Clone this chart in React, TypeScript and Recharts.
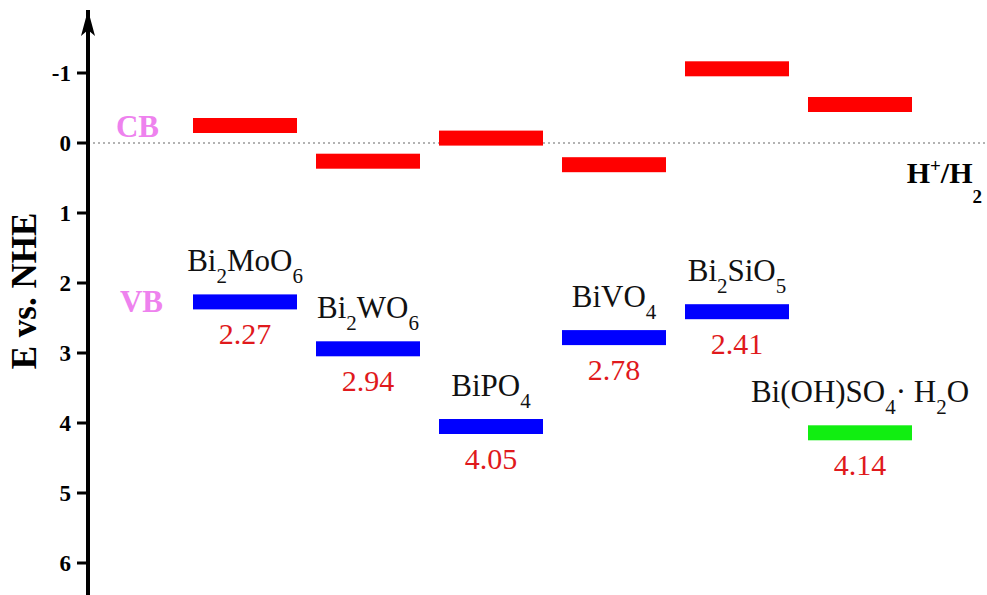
import React from 'react';
import { ComposedChart, Scatter, XAxis, YAxis, ReferenceLine, Cell } from 'recharts';

const names = ['Bi2MoO6', 'Bi2WO6', 'BiPO4', 'BiVO4', 'Bi2SiO5', 'Bi(OH)SO4· H2O'];
const cbValues = [-0.25, 0.26, -0.07, 0.31, -1.06, -0.55];
const vbValues = [2.27, 2.94, 4.05, 2.78, 2.41, 4.14];
const yTicks = [-1, 0, 1, 2, 3, 4, 5, 6];

const data = names.map((name, idx) => ({ name, idx, cb: cbValues[idx], vb: vbValues[idx] }));

const SERIF = '"Liberation Serif", "Times New Roman", serif';
const BAR_W = 104;
const BAR_H = 15;

// splits a formula into plain runs and digit runs (digits drawn as subscripts)
function Formula({ x, y, text, size, subSize, subDy, bold, fill }: any) {
  const runs = text.match(/\d+|\D+/g) || [];
  let sub = false;
  return (
    <text x={x} y={y} textAnchor="middle" fontFamily={SERIF} fontSize={size} fontWeight={bold ? 'bold' : 'normal'} fill={fill}>
      {runs.map((r: string, i: number) => {
        const isNum = /\d/.test(r);
        let dy = 0;
        if (isNum && !sub) dy = subDy;
        if (!isNum && sub) dy = -subDy;
        sub = isNum;
        return (
          <tspan key={i} dy={dy} fontSize={isNum ? subSize : size}>
            {r}
          </tspan>
        );
      })}
    </text>
  );
}

const YTick = (props: any) => {
  const { x, y, payload } = props;
  return (
    <text x={x} y={y + 8} textAnchor="end" fontFamily={SERIF} fontWeight="bold" fontSize={23} fill="#000">
      {payload.value}
    </text>
  );
};

const CbShape = (props: any) => {
  const { cx, cy, payload } = props;
  return (
    <g>
      <rect x={cx - BAR_W / 2} y={cy - BAR_H / 2} width={BAR_W} height={BAR_H} fill="#ff0000" />
      {payload.idx === 0 && (
        <text x={cx - BAR_W / 2 - 34} y={cy + 11} textAnchor="end" fontFamily={SERIF} fontWeight="bold" fontSize={31} fill="#ee82ee">
          CB
        </text>
      )}
    </g>
  );
};

const VbShape = (props: any) => {
  const { cx, cy, payload, fill } = props;
  return (
    <g>
      <rect x={cx - BAR_W / 2} y={cy - BAR_H / 2} width={BAR_W} height={BAR_H} fill={fill} />
      <Formula x={cx} y={cy - 31} text={payload.name} size={31} subSize={21} subDy={12} fill="#111" />
      <text x={cx} y={cy + 42} textAnchor="middle" fontFamily={SERIF} fontSize={30} fill="#e0191c">
        {payload.vb.toFixed(2)}
      </text>
      {payload.idx === 0 && (
        <text x={cx - BAR_W / 2 - 30} y={cy + 10} textAnchor="end" fontFamily={SERIF} fontWeight="bold" fontSize={31} fill="#ee82ee">
          VB
        </text>
      )}
    </g>
  );
};

const AxisDecor = (props: any) => {
  const { viewBox } = props;
  const ax = viewBox.x + viewBox.width;
  const top = viewBox.y;
  const tx = viewBox.x + 36;
  const ty = viewBox.y + viewBox.height / 2 - 13;
  return (
    <g>
      <path d={`M${ax} ${top} L${ax - 7} ${top + 26} L${ax} ${top + 20} L${ax + 7} ${top + 26} Z`} fill="#000" />
      <text x={tx} y={ty} transform={`rotate(-90 ${tx} ${ty})`} textAnchor="middle" fontFamily={SERIF} fontWeight="bold" fontSize={35} fill="#000">
        E vs. NHE
      </text>
    </g>
  );
};

const H2Label = (props: any) => {
  const { viewBox } = props;
  const x = viewBox.x + viewBox.width - 5;
  const y = viewBox.y + 40;
  return (
    <text x={x} y={y} textAnchor="end" fontFamily={SERIF} fontWeight="bold" fontSize={30} fill="#000">
      <tspan>H</tspan>
      <tspan dy={-11} fontSize={19}>+</tspan>
      <tspan dy={11}>/H</tspan>
      <tspan dy={20} fontSize={19}>2</tspan>
    </text>
  );
};

export default function App() {
  return (
    <div style={{ position: 'absolute', left: 0, top: 0, background: '#fff' }}>
      <ComposedChart width={987} height={595} data={data} margin={{ top: 10, right: 0, bottom: -3, left: 0 }}>
        <XAxis dataKey="name" type="category" hide padding={{ left: 157, right: 127 }} />
        <YAxis
          type="number"
          reversed
          domain={[-1.9, 6.5]}
          ticks={yTicks}
          interval={0}
          width={88}
          axisLine={{ stroke: '#000', strokeWidth: 4 }}
          tickLine={{ stroke: '#000', strokeWidth: 3 }}
          tickSize={11}
          tickMargin={6}
          tick={<YTick />}
          label={<AxisDecor />}
        />
        <ReferenceLine y={0} stroke="#9a9a9a" strokeWidth={1.5} strokeDasharray="2 3" label={<H2Label />} />
        <Scatter dataKey="cb" shape={<CbShape />} isAnimationActive={false} />
        <Scatter dataKey="vb" shape={<VbShape />} isAnimationActive={false}>
          {data.map((d) => (
            <Cell key={d.name} fill={d.idx === names.length - 1 ? '#11ee11' : '#0000ff'} />
          ))}
        </Scatter>
      </ComposedChart>
    </div>
  );
}
